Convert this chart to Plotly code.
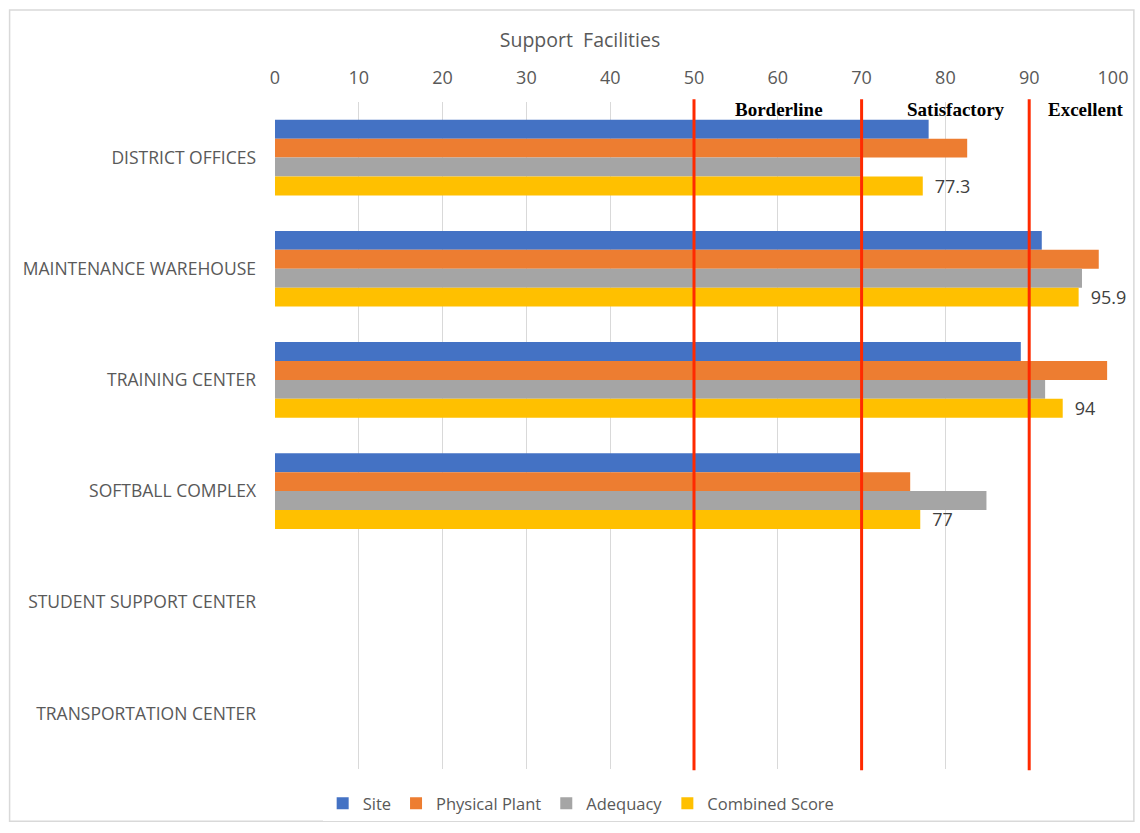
import plotly.graph_objects as go

categories = ["DISTRICT OFFICES", "MAINTENANCE WAREHOUSE", "TRAINING CENTER",
              "SOFTBALL COMPLEX", "STUDENT SUPPORT CENTER", "TRANSPORTATION CENTER"]
site = [78, 91.5, 89, 70, None, None]
physical_plant = [82.6, 98.3, 99.3, 75.8, None, None]
adequacy = [70, 96.3, 91.9, 84.9, None, None]
combined = [77.3, 95.9, 94, 77, None, None]
combined_labels = ["77.3", "95.9", "94", "77", "", ""]
x_ticks = [0, 10, 20, 30, 40, 50, 60, 70, 80, 90, 100]
thresholds = [50, 70, 90]
zone_names = ["Borderline", "Satisfactory", "Excellent"]
zone_label_x = [60.2, 81.3, 96.8]

series = [
    ("Site", site, "#4472C4"),
    ("Physical Plant", physical_plant, "#ED7D31"),
    ("Adequacy", adequacy, "#A5A5A5"),
    ("Combined Score", combined, "#FFC000"),
]

FONT = "Open Sans"
fig = go.Figure()
for name, vals, col in series:
    kw = {}
    if name == "Combined Score":
        kw = dict(text=["\u2002" + t if t else t for t in combined_labels], textposition="outside",
                  textfont=dict(size=18, color="#404040", family=FONT),
                  cliponaxis=False, constraintext="none")
    fig.add_trace(go.Bar(y=categories, x=vals, name=name, orientation="h",
                         marker=dict(color=col, line=dict(width=0)), **kw))

shapes = []
for t in thresholds:
    shapes.append(dict(type="line", xref="x", yref="paper", x0=t, x1=t, y0=-0.002, y1=1.004,
                       line=dict(color="#FF2A00", width=3)))
# outer border
L, R, T, B = 275, 1118, 102, 777
W, H = R - L, B - T
def px(x):
    return (x - L) / W
def py(y):
    return (B - y) / H
shapes.append(dict(type="rect", xref="paper", yref="paper", x0=px(8), x1=px(1139),
                   y0=py(830), y1=py(9), line=dict(color="#D9D9D9", width=1.5),
                   fillcolor="rgba(0,0,0,0)", layer="below"))

annotations = []
for xv, nm in zip(zone_label_x, zone_names):
    annotations.append(dict(x=xv, y=py(110), xref="x", yref="paper", text="<b>" + nm + "</b>",
                            showarrow=False, yanchor="middle",
                            font=dict(family="Liberation Serif", size=19, color="#000000")))

fig.update_layout(
    width=1140, height=833,
    margin=dict(l=L, r=1140 - R, t=T, b=833 - B),
    paper_bgcolor="white", plot_bgcolor="white",
    barmode="group", bargap=0.32, bargroupgap=0,
    font=dict(family=FONT, color="#595959"),
    title=dict(text="Support  Facilities", x=580 / 1140, y=1 - 40 / 833, xanchor="center",
               yanchor="middle", font=dict(size=19.5, color="#595959", family=FONT)),
    xaxis=dict(side="top", range=[0, 100], tickvals=x_ticks, showgrid=True, gridcolor="#D9D9D9",
               gridwidth=1, zeroline=False, showline=False, ticks="",
               tickfont=dict(size=18, color="#595959", family=FONT), ticklabelstandoff=13),
    yaxis=dict(autorange="reversed", showgrid=False, zeroline=False, showline=False, ticks="",
               tickfont=dict(size=17.5, color="#595959", family=FONT), ticklabelstandoff=18),
    legend=dict(orientation="h", x=px(583), xanchor="center", y=py(812), yanchor="middle",
                font=dict(size=16.5, color="#595959", family=FONT), traceorder="normal",
                itemwidth=30, tracegroupgap=0),
    shapes=shapes, annotations=annotations,
)

fig.write_html("out.html")
